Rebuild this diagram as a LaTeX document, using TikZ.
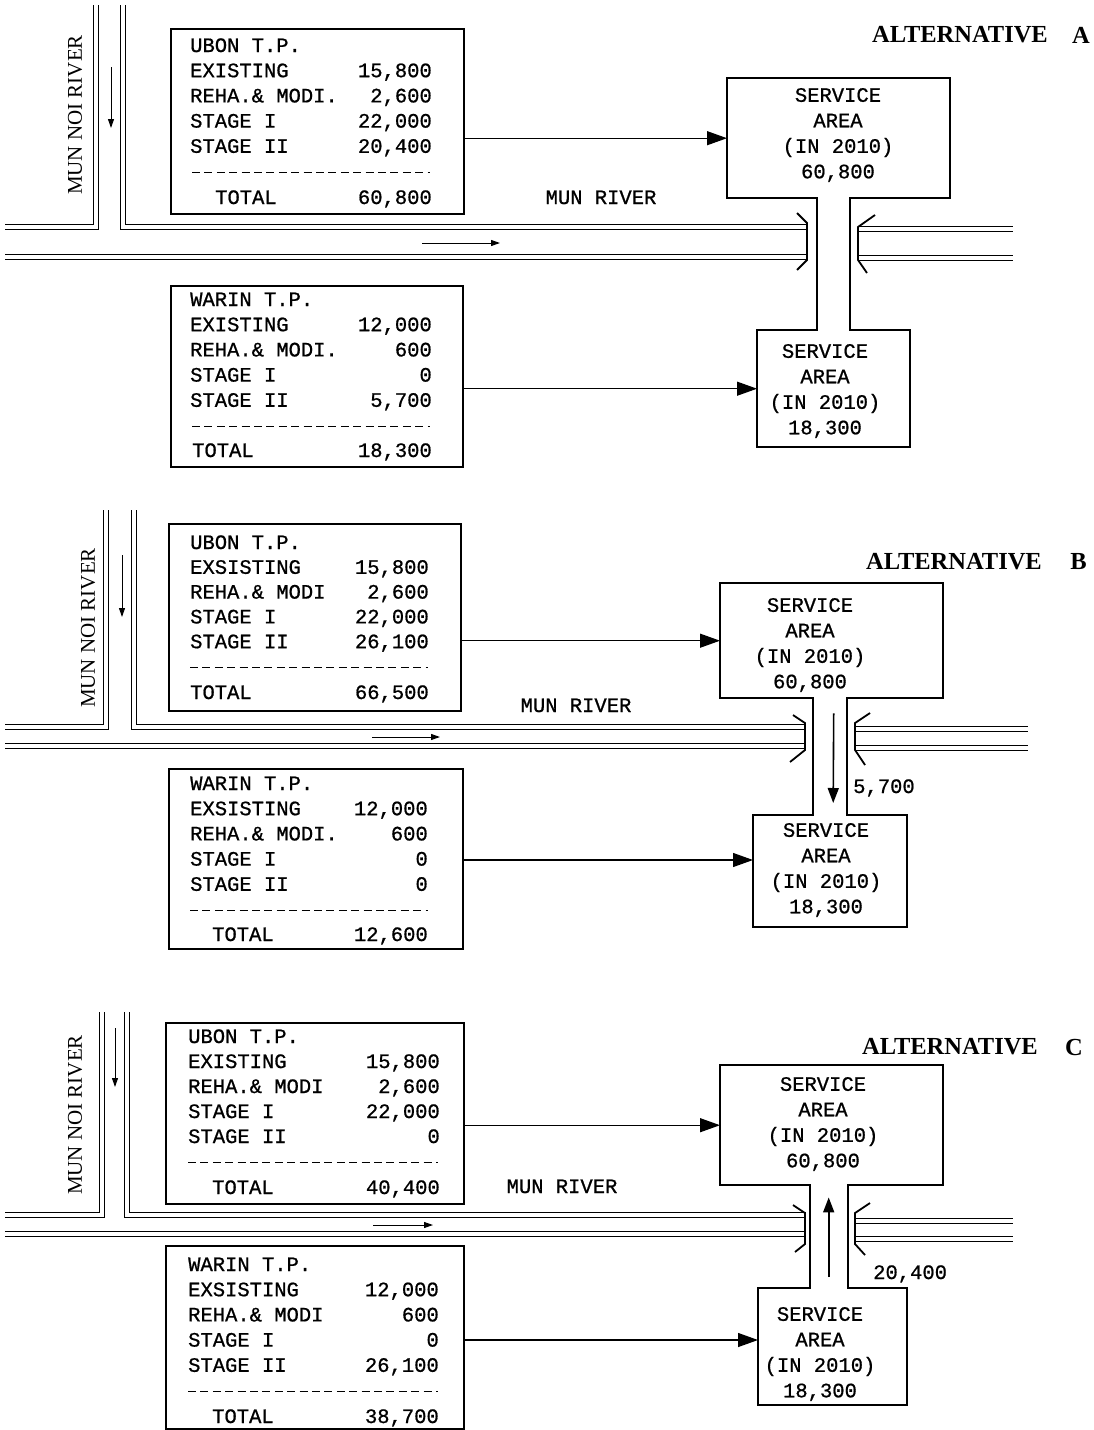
\documentclass[tikz,border=0pt]{standalone}
\usepackage{fontspec}
\usepackage{tikz}
\usetikzlibrary{arrows.meta,calc,positioning}
\newfontfamily\tyfont[FakeBold=0.8]{Liberation Mono}
\newfontfamily\hdfont{Liberation Serif}

\tikzset{
  tpbox/.style={draw, line width=1.8pt, anchor=north west, inner sep=0pt},
  tt/.style={font=\tyfont\fontsize{20.5}{25}\selectfont, anchor=west, inner sep=0pt, text height=12pt, text depth=0pt},
  tv/.style={tt, anchor=east},
  sep/.style={line width=1pt, dash pattern=on 8pt off 4.4pt},
  river/.style={double, double distance=3.5pt, line width=0.9pt},
  bridge/.style={line width=1.8pt, line join=miter},
  conn/.style={line width=1.2pt, -{Triangle[length=20pt,width=14pt]}},
  flow/.style={line width=1pt, -{Triangle[length=9pt,width=6pt]}},
  flowbig/.style={line width=1.6pt, -{Triangle[length=15pt,width=11pt]}},
  area/.style={line width=2.2pt, line join=miter},
  areabox/.style={anchor=north west, inner sep=0pt},
  areatext/.style={font=\tyfont\fontsize{20.5}{25.5}\selectfont, align=center, inner sep=0pt},
  head/.style={font=\hdfont\bfseries\fontsize{24.5}{28}\selectfont, inner sep=0pt},
  rivername/.style={font=\hdfont\fontsize{21}{24}\selectfont, rotate=90, inner sep=0pt},
}

\begin{document}
\begin{tikzpicture}[x=1pt, y=-1pt]
  \useasboundingbox (0,0) rectangle (1094,1430);
  \fill[white] (0,0) rectangle (1094,1430);

  %%%%%%%%%% ALTERNATIVE A %%%%%%%%%%
  \node[head, anchor=west] (altA) at (872,35) {ALTERNATIVE};
  \node[head, anchor=east] (altAl) at (1090,35) {A};
  \node[rivername] (munnoiA) at (75,115) {MUN NOI RIVER};
  \node[tt, anchor=center] (munA) at (601,198) {MUN RIVER};
  % rivers
  \draw[river] (96,5) -- (96,227) -- (5,227);
  \draw[river] (123,5) -- (123,227) -- (806,227);
  \draw[river] (5,257) -- (806,257);
  \draw[river] (858,229) -- (1013,229);
  \draw[river] (858,258) -- (1013,258);
  \draw[bridge] (797,213) -- (807,223) -- (807,260) -- (797,270);
  \draw[bridge] (875,215) -- (858,227) -- (858,260) -- (867,273);
  \draw[flow] (111,67) -- (111,128);
  \draw[flow] (422,243) -- (500,243);
  % Ubon T.P.
  \node[tpbox, minimum width=293pt, minimum height=185pt] (ubonA) at (170,28) {};
  \node[tt] (ubonAh) at (190,46) {UBON T.P.};
  \foreach \lab/\val [count=\i] in {EXISTING/{15,800}, REHA.\& MODI./{2,600}, STAGE I/{22,000}, STAGE II/{20,400}}{
    \node[tt] (ubonAl\i) at (190,{46+25.2*\i}) {\lab};
    \node[tv] (ubonAv\i) at (432,{46+25.2*\i}) {\val};
  }
  \draw[sep] (192,172) -- (430,172);
  \node[tt] (ubonAtl) at (215,198) {TOTAL};
  \node[tv] (ubonAtv) at (432,198) {60,800};
  % Warin T.P.
  \node[tpbox, minimum width=292pt, minimum height=181pt] (warinA) at (170,285) {};
  \node[tt] (warinAh) at (190,300) {WARIN T.P.};
  \foreach \lab/\val [count=\i] in {EXISTING/{12,000}, REHA.\& MODI./600, STAGE I/0, STAGE II/{5,700}}{
    \node[tt] (warinAl\i) at (190,{300+25.2*\i}) {\lab};
    \node[tv] (warinAv\i) at (432,{300+25.2*\i}) {\val};
  }
  \draw[sep] (192,426) -- (430,426);
  \node[tt] (warinAtl) at (192,451) {TOTAL};
  \node[tv] (warinAtv) at (432,451) {18,300};
  % service area
  \node[areabox, minimum width=223pt, minimum height=120pt] (svcAt) at (727,78) {};
  \node[areabox, minimum width=153pt, minimum height=117pt] (svcAb) at (757,330) {};
  \draw[area] (817,198) -- (727,198) -- (727,78) -- (950,78) -- (950,198) -- (850,198)
    -- (850,330) -- (910,330) -- (910,447) -- (757,447) -- (757,330) -- (817,330) -- cycle;
  \node[areatext] (svcAtx) at (838,135) {SERVICE\\AREA\\(IN 2010)\\60,800};
  \node[areatext] (svcAbx) at (825,391) {SERVICE\\AREA\\(IN 2010)\\18,300};
  \draw[conn] (ubonA.east |- svcAt.west) -- (svcAt.west);
  \draw[conn] (warinA.east |- svcAb.west) -- (svcAb.west);

  %%%%%%%%%% ALTERNATIVE B %%%%%%%%%%
  \node[head, anchor=west] (altB) at (866,562) {ALTERNATIVE};
  \node[head, anchor=east] (altBl) at (1087,562) {B};
  \node[rivername] (munnoiB) at (88,628) {MUN NOI RIVER};
  \node[tt, anchor=center] (munB) at (576,706) {MUN RIVER};
  % rivers
  \draw[river] (106,510) -- (106,727) -- (5,727);
  \draw[river] (134,510) -- (134,727) -- (806,727);
  \draw[river] (5,746) -- (806,746);
  \draw[river] (856,729) -- (1028,729);
  \draw[river] (856,748) -- (1028,748);
  \draw[bridge] (793,715) -- (805,723) -- (805,750) -- (790,762);
  \draw[bridge] (870,713) -- (855,723) -- (855,750) -- (865,765);
  \draw[flow] (122,555) -- (122,617);
  \draw[flow] (372,737) -- (440,737);
  % Ubon T.P.
  \node[tpbox, minimum width=292pt, minimum height=187pt] (ubonB) at (168,523) {};
  \node[tt] (ubonBh) at (190,543) {UBON T.P.};
  \foreach \lab/\val [count=\i] in {EXSISTING/{15,800}, REHA.\& MODI/{2,600}, STAGE I/{22,000}, STAGE II/{26,100}}{
    \node[tt] (ubonBl\i) at (190,{543+24.8*\i}) {\lab};
    \node[tv] (ubonBv\i) at (429,{543+24.8*\i}) {\val};
  }
  \draw[sep] (190,667) -- (428,667);
  \node[tt] (ubonBtl) at (190,693) {TOTAL};
  \node[tv] (ubonBtv) at (429,693) {66,500};
  % Warin T.P.
  \node[tpbox, minimum width=294pt, minimum height=180pt] (warinB) at (168,768) {};
  \node[tt] (warinBh) at (190,784) {WARIN T.P.};
  \foreach \lab/\val [count=\i] in {EXSISTING/{12,000}, REHA.\& MODI./600, STAGE I/0, STAGE II/0}{
    \node[tt] (warinBl\i) at (190,{784+25.2*\i}) {\lab};
    \node[tv] (warinBv\i) at (428,{784+25.2*\i}) {\val};
  }
  \draw[sep] (190,910) -- (428,910);
  \node[tt] (warinBtl) at (212,935) {TOTAL};
  \node[tv] (warinBtv) at (428,935) {12,600};
  % service area
  \node[areabox, minimum width=223pt, minimum height=115pt] (svcBt) at (720,583) {};
  \node[areabox, minimum width=154pt, minimum height=112pt] (svcBb) at (753,815) {};
  \draw[area] (813,698) -- (720,698) -- (720,583) -- (943,583) -- (943,698) -- (847,698)
    -- (847,815) -- (907,815) -- (907,927) -- (753,927) -- (753,815) -- (813,815) -- cycle;
  \node[areatext] (svcBtx) at (810,645) {SERVICE\\AREA\\(IN 2010)\\60,800};
  \node[areatext] (svcBbx) at (826,870) {SERVICE\\AREA\\(IN 2010)\\18,300};
  \draw[conn] (ubonB.east |- svcBt.west) -- (svcBt.west);
  \draw[conn] (warinB.east |- 0,860) -- (svcBb.west |- 0,860);
  \draw[flowbig] ([xshift=2pt, yshift=-15pt]svcBt.south) -- ([xshift=3pt, yshift=12pt]svcBb.north);
  \node[tt] (qB) at (853,787) {5,700};

  %%%%%%%%%% ALTERNATIVE C %%%%%%%%%%
  \node[head, anchor=west] (altC) at (862,1047) {ALTERNATIVE};
  \node[head, anchor=east] (altCl) at (1083,1047) {C};
  \node[rivername] (munnoiC) at (75,1115) {MUN NOI RIVER};
  \node[tt, anchor=center] (munC) at (562,1187) {MUN RIVER};
  % rivers
  \draw[river] (102,1012) -- (102,1215) -- (5,1215);
  \draw[river] (127,1012) -- (127,1215) -- (806,1215);
  \draw[river] (5,1234) -- (806,1234);
  \draw[river] (856,1221) -- (1013,1221);
  \draw[river] (856,1239) -- (1013,1239);
  \draw[bridge] (793,1205) -- (805,1213) -- (805,1244) -- (795,1252);
  \draw[bridge] (870,1203) -- (855,1213) -- (855,1244) -- (865,1255);
  \draw[flow] (115,1028) -- (115,1087);
  \draw[flow] (373,1225) -- (433,1225);
  % Ubon T.P.
  \node[tpbox, minimum width=298pt, minimum height=181pt] (ubonC) at (165,1022) {};
  \node[tt] (ubonCh) at (188,1037) {UBON T.P.};
  \foreach \lab/\val [count=\i] in {EXISTING/{15,800}, REHA.\& MODI/{2,600}, STAGE I/{22,000}, STAGE II/0}{
    \node[tt] (ubonCl\i) at (188,{1037+25*\i}) {\lab};
    \node[tv] (ubonCv\i) at (440,{1037+25*\i}) {\val};
  }
  \draw[sep] (188,1162) -- (438,1162);
  \node[tt] (ubonCtl) at (212,1188) {TOTAL};
  \node[tv] (ubonCtv) at (440,1188) {40,400};
  % Warin T.P.
  \node[tpbox, minimum width=298pt, minimum height=183pt] (warinC) at (165,1245) {};
  \node[tt] (warinCh) at (188,1265) {WARIN T.P.};
  \foreach \lab/\val [count=\i] in {EXSISTING/{12,000}, REHA.\& MODI/600, STAGE I/0, STAGE II/{26,100}}{
    \node[tt] (warinCl\i) at (188,{1265+25.2*\i}) {\lab};
    \node[tv] (warinCv\i) at (439,{1265+25.2*\i}) {\val};
  }
  \draw[sep] (188,1391) -- (438,1391);
  \node[tt] (warinCtl) at (212,1417) {TOTAL};
  \node[tv] (warinCtv) at (439,1417) {38,700};
  % service area
  \node[areabox, minimum width=223pt, minimum height=120pt] (svcCt) at (720,1065) {};
  \node[areabox, minimum width=149pt, minimum height=117pt] (svcCb) at (758,1288) {};
  \draw[area] (810,1185) -- (720,1185) -- (720,1065) -- (943,1065) -- (943,1185) -- (848,1185)
    -- (848,1288) -- (907,1288) -- (907,1405) -- (758,1405) -- (758,1288) -- (810,1288) -- cycle;
  \node[areatext] (svcCtx) at (823,1124) {SERVICE\\AREA\\(IN 2010)\\60,800};
  \node[areatext] (svcCbx) at (820,1354) {SERVICE\\AREA\\(IN 2010)\\18,300};
  \draw[conn] (ubonC.east |- svcCt.west) -- (svcCt.west);
  \draw[conn] (warinC.east |- 0,1340) -- (svcCb.west |- 0,1340);
  \draw[flowbig] ([xshift=-4pt, yshift=11pt]svcCb.north) -- ([xshift=-3pt, yshift=-12pt]svcCt.south);
  \node[tt] (qC) at (873,1273) {20,400};
\end{tikzpicture}
\end{document}
